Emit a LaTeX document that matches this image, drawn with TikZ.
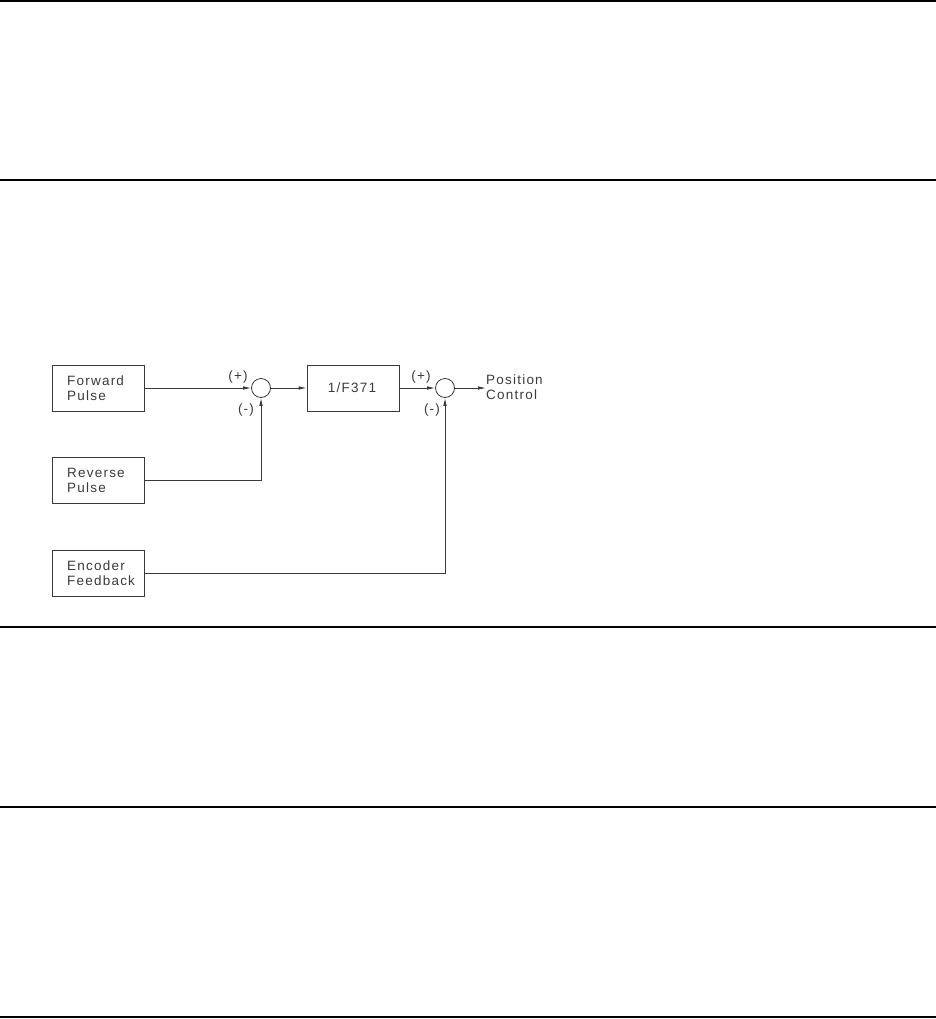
\documentclass[tikz,border=0pt]{standalone}
\usepackage{fontspec}
\setmainfont{Liberation Sans}[LetterSpace=9]
\usetikzlibrary{arrows.meta}
\definecolor{ink}{HTML}{3A3A3A}
\tikzset{
  blk/.style={draw=ink, line width=0.8pt, minimum width=92pt, minimum height=46pt, inner sep=0pt},
  sumnode/.style={draw=ink, line width=0.8pt, circle, minimum size=19pt, inner sep=0pt},
  txt/.style={font=\fontsize{13.5}{15}\selectfont, text=ink, inner sep=0pt},
  conn/.style={draw=ink, line width=0.8pt},
  arr/.style={conn, -{Latex[length=8pt,width=3.5pt]}},
  rule/.style={draw=black, line width=1.6pt}
}
\begin{document}
\begin{tikzpicture}[x=1pt,y=-1pt]
\useasboundingbox (0,0) rectangle (936,1019);
% horizontal rules
\coordinate (r1a) at (0,1); \coordinate (r1b) at (936,1);
\coordinate (r2a) at (0,180); \coordinate (r2b) at (936,180);
\coordinate (r3a) at (0,627); \coordinate (r3b) at (936,627);
\coordinate (r4a) at (0,807); \coordinate (r4b) at (936,807);
\coordinate (r5a) at (0,1017); \coordinate (r5b) at (936,1017);
\draw[rule] (r1a) -- (r1b);
\draw[rule] (r2a) -- (r2b);
\draw[rule] (r3a) -- (r3b);
\draw[rule] (r4a) -- (r4b);
\draw[rule] (r5a) -- (r5b);
% blocks
\node[blk] (fwd) at (98,388) {};
\node[txt, anchor=west, align=left] at (67,388) {Forward\\Pulse};
\node[blk] (rev) at (98,480.5) {};
\node[txt, anchor=west, align=left] at (67,480.5) {Reverse\\Pulse};
\node[blk] (enc) at (98,573.5) {};
\node[txt, anchor=west, align=left] at (67,573.5) {Encoder\\Feedback};
\node[blk] (gain) at (353,388) {};
\node[txt] at (352,388) {1/F371};
\node[sumnode] (s1) at (261,388) {};
\node[sumnode] (s2) at (445,388) {};
\node[txt, anchor=west, align=left] (out) at (486,387) {Position\\Control};
% sign labels
\node[txt] at (238,377) {(+)};
\node[txt] at (246,410) {(-)};
\node[txt] at (421,377) {(+)};
\node[txt] at (432,410) {(-)};
% connectors
\draw[arr] (fwd.east) -- (s1.west);
\draw[arr] (s1.east) -- (gain.west);
\draw[arr] (gain.east) -- (s2.west);
\draw[arr] (s2.east) -- (s2.east -| out.west);
\draw[arr] (rev.east) -| (s1.south);
\draw[arr] (enc.east) -| (s2.south);
\end{tikzpicture}
\end{document}
